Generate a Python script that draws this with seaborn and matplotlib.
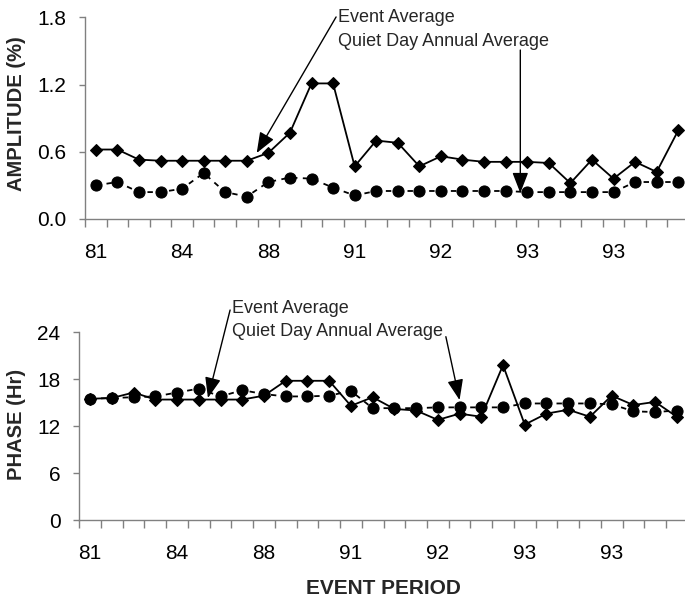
import numpy as np
import pandas as pd
import matplotlib
matplotlib.use("Agg")
import matplotlib.pyplot as plt
import seaborn as sns

# ---- data ----
tick_positions = [0, 4, 8, 12, 16, 20, 24]
tick_labels = ["81", "84", "88", "91", "92", "93", "93"]

amp_event = [0.62, 0.62, 0.53, 0.52, 0.52, 0.52, 0.52, 0.52, 0.59, 0.77, 1.21, 1.21,
             0.47, 0.70, 0.68, 0.47, 0.56, 0.53, 0.51, 0.51, 0.51, 0.50, 0.32, 0.53,
             0.36, 0.51, 0.42, 0.79]
amp_quiet = [0.30, 0.33, 0.24, 0.24, 0.27, 0.41, 0.24, 0.20, 0.33, 0.37, 0.36, 0.28,
             0.21, 0.25, 0.25, 0.25, 0.25, 0.25, 0.25, 0.25, 0.24, 0.24, 0.24, 0.24,
             0.24, 0.33, 0.33, 0.33]
phase_event = [15.5, 15.6, 16.3, 15.4, 15.4, 15.4, 15.4, 15.4, 15.9, 17.8, 17.8, 17.8,
               14.6, 15.7, 14.2, 14.0, 12.8, 13.6, 13.2, 19.8, 12.2, 13.6, 14.1, 13.2,
               15.9, 14.7, 15.1, 13.2]
phase_quiet = [15.5, 15.6, 15.7, 15.8, 16.3, 16.8, 15.8, 16.6, 16.1, 15.8, 15.8, 15.9,
               16.5, 14.3, 14.3, 14.3, 14.4, 14.4, 14.4, 14.4, 14.9, 14.9, 14.9, 14.9,
               14.8, 13.9, 13.8, 14.0]

idx = np.arange(len(amp_event))
df = pd.DataFrame({"period": idx, "amp_event": amp_event, "amp_quiet": amp_quiet,
                   "phase_event": phase_event, "phase_quiet": phase_quiet})

sns.set_style("white")
plt.rcParams["font.family"] = ["Liberation Sans", "DejaVu Sans"]

W, H = 685, 598
fig = plt.figure(figsize=(W / 100, H / 100), dpi=100)

ax1 = fig.add_axes([85 / W, 1 - 219 / H, 604 / W, 201.7 / H])
ax2 = fig.add_axes([79.3 / W, 1 - 520 / H, 608.4 / W, 187.7 / H])

spine_col = "#808080"

def draw(ax, ycol_event, ycol_quiet):
    sns.lineplot(data=df, x="period", y=ycol_event, ax=ax, color="black",
                 marker="D", markersize=6.3, markeredgecolor="black",
                 markerfacecolor="black", linewidth=1.3, linestyle="-", zorder=3)
    sns.lineplot(data=df, x="period", y=ycol_quiet, ax=ax, color="black",
                 marker="o", markersize=8.0, markeredgecolor="black",
                 markerfacecolor="black", linewidth=1.3, linestyle=(0, (3, 3)),
                 zorder=4)
    ax.set_xlim(-0.5, len(idx) - 0.5)
    ax.set_xticks(tick_positions)
    ax.set_xticklabels(tick_labels)
    ax.set_xticks(np.arange(-0.5, len(idx), 1.0), minor=True)
    ax.tick_params(axis="x", which="major", length=0, pad=17, labelsize=15,
                   labelcolor="black")
    ax.tick_params(axis="x", which="minor", length=5.5, width=1, color=spine_col,
                   direction="out", bottom=True)
    ax.tick_params(axis="y", which="major", length=4.5, width=1, color=spine_col,
                   direction="out", left=True, pad=9, labelsize=15, labelcolor="black")
    for s in ["top", "right"]:
        ax.spines[s].set_visible(False)
    for s in ["left", "bottom"]:
        ax.spines[s].set_color(spine_col)
        ax.spines[s].set_linewidth(1)
    ax.set_xlabel("")
    ax.grid(False)

draw(ax1, "amp_event", "amp_quiet")
ax1.set_ylim(0, 1.8)
ax1.set_yticks([0.0, 0.6, 1.2, 1.8])
ax1.set_yticklabels(["0.0", "0.6", "1.2", "1.8"])
ax1.set_ylabel("AMPLITUDE (%)", fontsize=14.5, fontweight="bold")
ax1.yaxis.label.set_va("center")
ax1.yaxis.set_label_coords(-0.114, 0.523)

draw(ax2, "phase_event", "phase_quiet")
ax2.set_ylim(0, 24)
ax2.set_yticks([0, 6, 12, 18, 24])
ax2.set_ylabel("PHASE (Hr)", fontsize=14.5, fontweight="bold")
ax2.yaxis.label.set_va("center")
ax2.yaxis.set_label_coords(-0.103, 0.511)

fig.text(383.5 / W, 1 - 588 / H, "EVENT PERIOD", fontsize=15, fontweight="bold",
         ha="center", va="center")

arrow = dict(arrowstyle="-|>,head_length=0.9,head_width=0.35", color="black",
             lw=1.0, shrinkA=0, shrinkB=0, mutation_scale=14)

# top panel annotations
ax1.text(11.23, 1.794, "Event Average", fontsize=13, ha="left", va="center", clip_on=False)
ax1.text(11.23, 1.58, "Quiet Day Annual Average", fontsize=13, ha="left", va="center",
         clip_on=False)
ax1.annotate("", xy=(7.46, 0.589), xytext=(11.14, 1.803), arrowprops=arrow,
             annotation_clip=False)
ax1.annotate("", xy=(19.68, 0.232), xytext=(19.68, 1.508), arrowprops=arrow,
             annotation_clip=False)

# bottom panel annotations
ax2.text(6.51, 27.1, "Event Average", fontsize=13, ha="left", va="center", clip_on=False)
ax2.text(6.51, 24.08, "Quiet Day Annual Average", fontsize=13, ha="left", va="center",
         clip_on=False)
ax2.annotate("", xy=(5.42, 15.6), xytext=(6.44, 26.85), arrowprops=arrow,
             annotation_clip=False)
ax2.annotate("", xy=(17.0, 15.34), xytext=(16.37, 23.44), arrowprops=arrow,
             annotation_clip=False)

for ax in (ax1, ax2):
    for line in ax.lines:
        line.set_clip_on(False)

fig.savefig("out.png", dpi=100)
